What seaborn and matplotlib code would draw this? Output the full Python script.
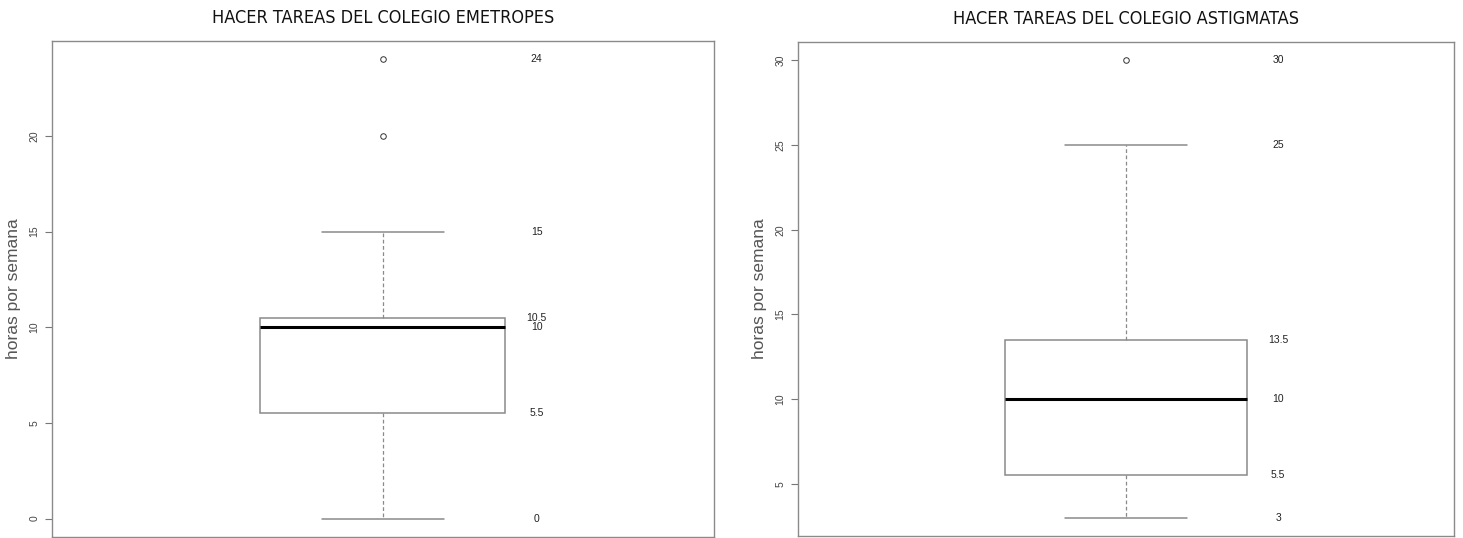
import numpy as np
import pandas as pd
import matplotlib
matplotlib.use("Agg")
import matplotlib.pyplot as plt
import seaborn as sns

# Horas por semana haciendo tareas
emetropes = [0, 5.5, 5.5, 5.5, 10, 10, 10, 10.5, 10.5, 10.5, 15, 20, 24]
astigmatas = [3, 3, 5.5, 5.5, 10, 10, 10, 13.5, 13.5, 13.5, 25, 25, 30]

# Etiquetas de resumen escritas junto a cada caja
etiq_emetropes = [24, 15, 10.5, 10, 5.5, 0]
etiq_astigmatas = [30, 25, 13.5, 10, 5.5, 3]

titulos = ["HACER TAREAS DEL COLEGIO EMETROPES", "HACER TAREAS DEL COLEGIO ASTIGMATAS"]
yticks_list = [[0, 5, 10, 15, 20], [5, 10, 15, 20, 25, 30]]

sns.set_style("white")
plt.rcParams["font.family"] = ["Liberation Sans", "DejaVu Sans"]

fig = plt.figure(figsize=(14.63, 5.38), dpi=100)
ax1 = fig.add_axes([0.0355, 0.0019, 0.4525, 0.9219])
ax2 = fig.add_axes([0.5455, 0.0037, 0.4484, 0.9182])

conjuntos = [emetropes, astigmatas]
etiquetas = [etiq_emetropes, etiq_astigmatas]

for ax, datos, etiq, titulo, yt in zip([ax1, ax2], conjuntos, etiquetas, titulos, yticks_list):
    df = pd.DataFrame({"horas": datos})
    sns.boxplot(data=df, y="horas", ax=ax, width=0.37, whis=1.5,
                color="white", linecolor="#8a8a8a", linewidth=1.1,
                medianprops=dict(color="black", linewidth=2.2),
                whiskerprops=dict(linestyle=(0, (3, 2)), color="#8a8a8a", linewidth=0.9),
                capprops=dict(color="#8a8a8a", linewidth=1.1),
                flierprops=dict(marker="o", markersize=4, markerfacecolor="white",
                                markeredgecolor="#333333", markeredgewidth=0.7))
    lo, hi = min(datos), max(datos)
    pad = (hi - lo) * 0.04
    ax.set_ylim(lo - pad, hi + pad)
    ax.set_xlim(-0.5, 0.5)
    for v in etiq:
        ax.text(0.232, v, f"{v:g}", ha="center", va="center", fontsize=7.5, color="#222222")
    ax.set_yticks(yt)
    ax.set_yticklabels([str(t) for t in yt], rotation=90, va="center", fontsize=7.5, color="#444444")
    ax.tick_params(axis="y", left=True, length=5, width=0.8, color="#777777", pad=4)
    ax.set_xticks([])
    ax.set_xlabel("")
    ax.set_ylabel("horas por semana", fontsize=12.5, color="#555555", labelpad=6)
    for s in ax.spines.values():
        s.set_color("#8a8a8a")
        s.set_linewidth(1.0)
    ax.set_title(titulo, fontsize=13, family="DejaVu Sans", fontstretch="condensed",
                 pad=13, color="#111111")

fig.savefig("out.png", dpi=100)
